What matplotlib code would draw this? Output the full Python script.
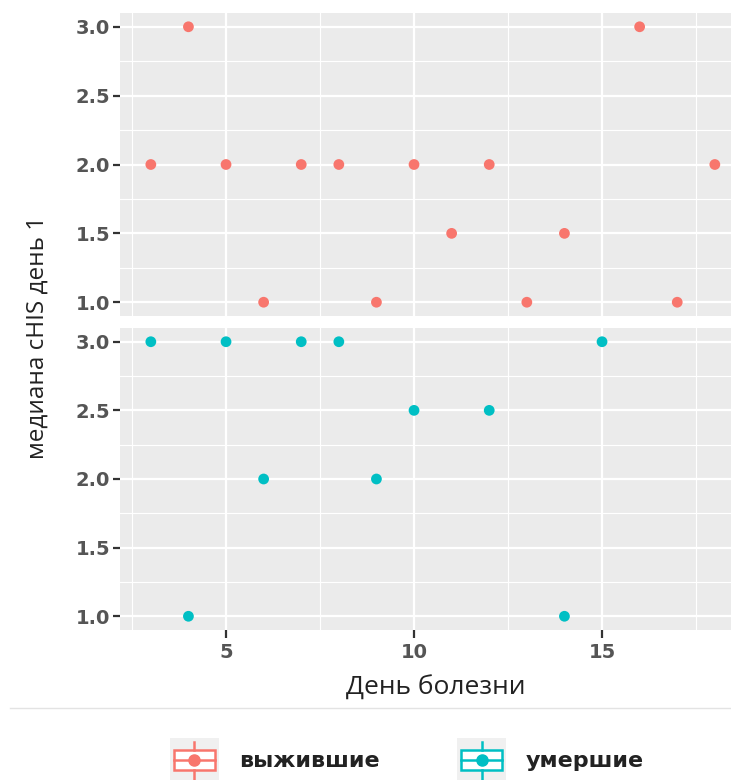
import matplotlib.pyplot as plt
from matplotlib.lines import Line2D
from matplotlib.patches import Rectangle
from matplotlib.legend_handler import HandlerBase

plt.rcParams['font.family'] = ['DejaVu Sans']

# данные
day_alive = [3, 4, 5, 6, 7, 8, 9, 10, 11, 12, 13, 14, 16, 17, 18]
chis_alive = [2, 3, 2, 1, 2, 2, 1, 2, 1.5, 2, 1, 1.5, 3, 1, 2]
day_dead = [3, 4, 5, 6, 7, 8, 9, 10, 12, 14, 15]
chis_dead = [3, 1, 3, 2, 3, 3, 2, 2.5, 2.5, 1, 3]
groups = ['выжившие', 'умершие']
colors = ['#F8766D', '#00BFC4']
xticks = [5, 10, 15]
xminor = [2.5, 7.5, 12.5, 17.5]
yticks = [1.0, 1.5, 2.0, 2.5, 3.0]
yminor = [1.25, 1.75, 2.25, 2.75]

W, H = 731, 780
fig = plt.figure(figsize=(W / 100, H / 100), dpi=100)

def px_axes(left, top, right, bottom):
    return fig.add_axes([left / W, 1 - bottom / H, (right - left) / W, (bottom - top) / H])

ax_top = px_axes(120, 13, 731, 316)
ax_bot = px_axes(120, 328, 731, 630)

for ax, xs, ys, col in [(ax_top, day_alive, chis_alive, colors[0]),
                        (ax_bot, day_dead, chis_dead, colors[1])]:
    ax.set_facecolor('#EBEBEB')
    for s in ax.spines.values():
        s.set_visible(False)
    ax.set_xlim(2.18, 18.43)
    ax.set_ylim(0.9, 3.1)
    ax.set_xticks(xticks)
    ax.set_xticks(xminor, minor=True)
    ax.set_yticks(yticks)
    ax.set_yticks(yminor, minor=True)
    ax.grid(True, which='major', color='white', linewidth=1.6)
    ax.grid(True, which='minor', color='white', linewidth=0.8)
    ax.set_axisbelow(True)
    ax.tick_params(axis='y', which='major', length=5, width=1.6, color='#333333',
                   labelsize=14, labelcolor='#555555', pad=2)
    ax.tick_params(which='minor', length=0)
    ax.set_yticklabels([f'{v:.1f}' for v in yticks], fontweight='bold')
    ax.scatter(xs, ys, s=60, color=col, edgecolors='none', zorder=3)

ax_top.tick_params(axis='x', which='major', length=0, labelbottom=False)
ax_bot.tick_params(axis='x', which='major', length=6, width=1.6, color='#333333',
                   labelsize=14, labelcolor='#555555', pad=3)
ax_bot.set_xticklabels([str(v) for v in xticks], fontweight='bold')

fig.text(436 / W, 1 - 688 / H, 'День болезни', fontsize=19, color='#222222',
         family=['Open Sans', 'DejaVu Sans'], ha='center', va='center')
fig.text(38 / W, 1 - 337 / H, 'медиана cHIS день 1', fontsize=17.5, color='#222222',
         family=['Open Sans', 'DejaVu Sans'], rotation=90, ha='center', va='center')

# разделительная линия над легендой
fig.add_artist(Line2D([10 / W, 1.0], [1 - 708 / H, 1 - 708 / H], color='#E3E3E3',
                      linewidth=1, transform=fig.transFigure))


class BoxKey(HandlerBase):
    def create_artists(self, legend, orig_handle, xd, yd, w, h, fontsize, trans):
        c = orig_handle.get_color()
        x0, y0 = -xd, -yd
        cx = x0 + w / 2
        arts = [Rectangle((x0, y0), w, h, facecolor='#F0F0F0', edgecolor='none', transform=trans)]
        arts.append(Rectangle((x0 + w * 0.08, y0 + h * 0.28), w * 0.84, h * 0.44,
                              facecolor='white', edgecolor=c, linewidth=1.8, transform=trans))
        arts.append(Line2D([cx, cx], [y0, y0 + h * 0.28], color=c, linewidth=1.8, transform=trans))
        arts.append(Line2D([cx, cx], [y0 + h * 0.72, y0 + h * 0.9], color=c, linewidth=1.8, transform=trans))
        arts.append(Line2D([x0 + w * 0.08, x0 + w * 0.92], [y0 + h * 0.5, y0 + h * 0.5], color=c,
                           linewidth=1.8, transform=trans))
        arts.append(Line2D([cx], [y0 + h * 0.5], marker='o', markersize=8, color=c,
                           linestyle='none', transform=trans))
        return arts


handles = [Line2D([], [], color=c) for c in colors]
fig.legend(handles, groups, handler_map={Line2D: BoxKey()}, loc='center',
           bbox_to_anchor=(407 / W, 1 - 760 / H), ncol=2, frameon=False,
           prop={'size': 16, 'weight': 'bold'}, labelcolor='#222222',
           handlelength=2.2, handleheight=2.7, handletextpad=0.9, columnspacing=3.5)

fig.savefig('out.png', dpi=100)
